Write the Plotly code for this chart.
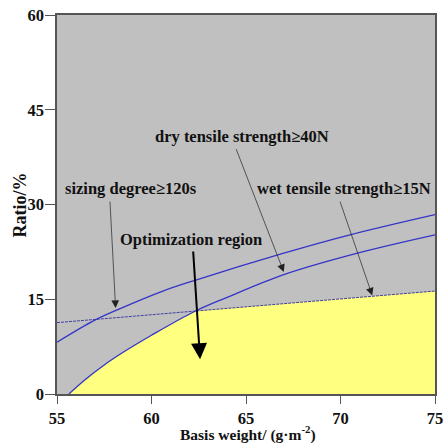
import plotly.graph_objects as go

# Data
sizing_x = [55, 75]
sizing_y = [11.3, 16.3]

upper_x = [55, 57.0, 58.4, 60.6, 62.3, 67.0, 70.5, 75]
upper_y = [8.2, 11.7, 13.6, 16.3, 18.0, 22.3, 25.2, 28.4]

lower_x = [55.63, 56.5, 57.5, 58.5, 60.0, 62.3, 64.0, 67.0, 70.9, 75]
lower_y = [0.0, 2.3, 4.6, 6.6, 9.3, 13.1, 15.3, 18.9, 22.3, 25.2]

x_ticks = [55, 60, 65, 70, 75]
y_ticks = [0, 15, 30, 45, 60]

x_title = "Basis weight/ (g·m<sup>-2</sup>)"
y_title = "Ratio/%"

GRAY = "#c0c0c0"
YELLOW = "#ffff80"
BLUE = "#3434c8"
FONT = "Liberation Serif"

fig = go.Figure()

# Yellow: below sizing line
fig.add_trace(go.Scatter(x=sizing_x, y=sizing_y, mode="lines", line=dict(width=0),
                         fill="tozeroy", fillcolor=YELLOW, hoverinfo="skip"))
# Gray cover above/left of the lower curve
fig.add_trace(go.Scatter(x=[55, 55, 75], y=[0, 60, 60], mode="lines", line=dict(width=0),
                         hoverinfo="skip"))
fig.add_trace(go.Scatter(x=lower_x, y=lower_y, mode="lines", line=dict(width=0, shape="spline"),
                         fill="tonexty", fillcolor=GRAY, hoverinfo="skip"))

# Lines
fig.add_trace(go.Scatter(x=sizing_x, y=sizing_y, mode="lines",
                         line=dict(color="#4040a0", width=1, dash="3px,1px")))
fig.add_trace(go.Scatter(x=upper_x, y=upper_y, mode="lines",
                         line=dict(color=BLUE, width=1.3, shape="spline")))
fig.add_trace(go.Scatter(x=lower_x, y=lower_y, mode="lines",
                         line=dict(color=BLUE, width=1.3, shape="spline")))

tfont = dict(family=FONT, size=16.5, color="#111111", weight="bold")

texts = [
    ("dry tensile strength≥40N", 64.8, 40.7),
    ("sizing degree≥120s", 58.9, 32.6),
    ("wet tensile strength≥15N", 70.2, 32.6),
    ("Optimization region", 62.1, 24.4),
]
for t, x, y in texts:
    fig.add_annotation(x=x, y=y, text=t, showarrow=False, font=tfont,
                       xref="x", yref="y")

arrows = [
    ((64.45, 39.0), (67.0, 19.3)),
    ((57.8, 30.7), (58.1, 13.6)),
    ((69.95, 30.7), (71.68, 15.6)),
]
for (ax_, ay_), (x, y) in arrows:
    fig.add_annotation(x=x, y=y, ax=ax_, ay=ay_, xref="x", yref="y", axref="x", ayref="y",
                       text="", showarrow=True, arrowhead=2, arrowsize=2.2, arrowwidth=0.7,
                       arrowcolor="#222222")
fig.add_annotation(x=62.57, y=5.5, ax=62.2, ay=22.8, xref="x", yref="y", axref="x", ayref="y",
                   text="", showarrow=True, arrowhead=2, arrowsize=1.6, arrowwidth=2,
                   arrowcolor="black")

axfont = dict(family=FONT, size=16.5, color="#111111", weight="bold")

# Axis titles
fig.add_annotation(x=0.505, y=-0.103, xref="paper", yref="paper", text=x_title,
                   showarrow=False, font=dict(family=FONT, size=15.5, color="#111111", weight="bold"),
                   yanchor="middle")
fig.add_annotation(x=-0.098, y=0.5, xref="paper", yref="paper", text=y_title,
                   showarrow=False, textangle=-90, xanchor="center",
                   font=dict(family=FONT, size=18, color="#111111", weight="bold"))

fig.update_layout(
    width=447, height=443,
    margin=dict(l=57, r=12, t=15, b=49),
    paper_bgcolor="white", plot_bgcolor=GRAY,
    showlegend=False,
    font=dict(family=FONT, color="black"),
)
fig.update_xaxes(range=[55, 75], tickvals=x_ticks, automargin=False,
                 ticks="outside", ticklen=8, tickwidth=1.3, tickcolor="#555555",
                 showline=True, linecolor="#555555", linewidth=1.5, mirror=True,
                 showgrid=False, zeroline=False, ticklabelstandoff=0,
                 tickfont=axfont)
fig.update_yaxes(range=[0, 60], tickvals=y_ticks, automargin=False,
                 ticks="outside", ticklen=10, tickwidth=1.3, tickcolor="#555555",
                 showline=True, linecolor="#555555", linewidth=1.5, mirror=True,
                 showgrid=False, zeroline=False, ticklabelstandoff=-2,
                 tickfont=axfont)

fig.write_html("out.html")
